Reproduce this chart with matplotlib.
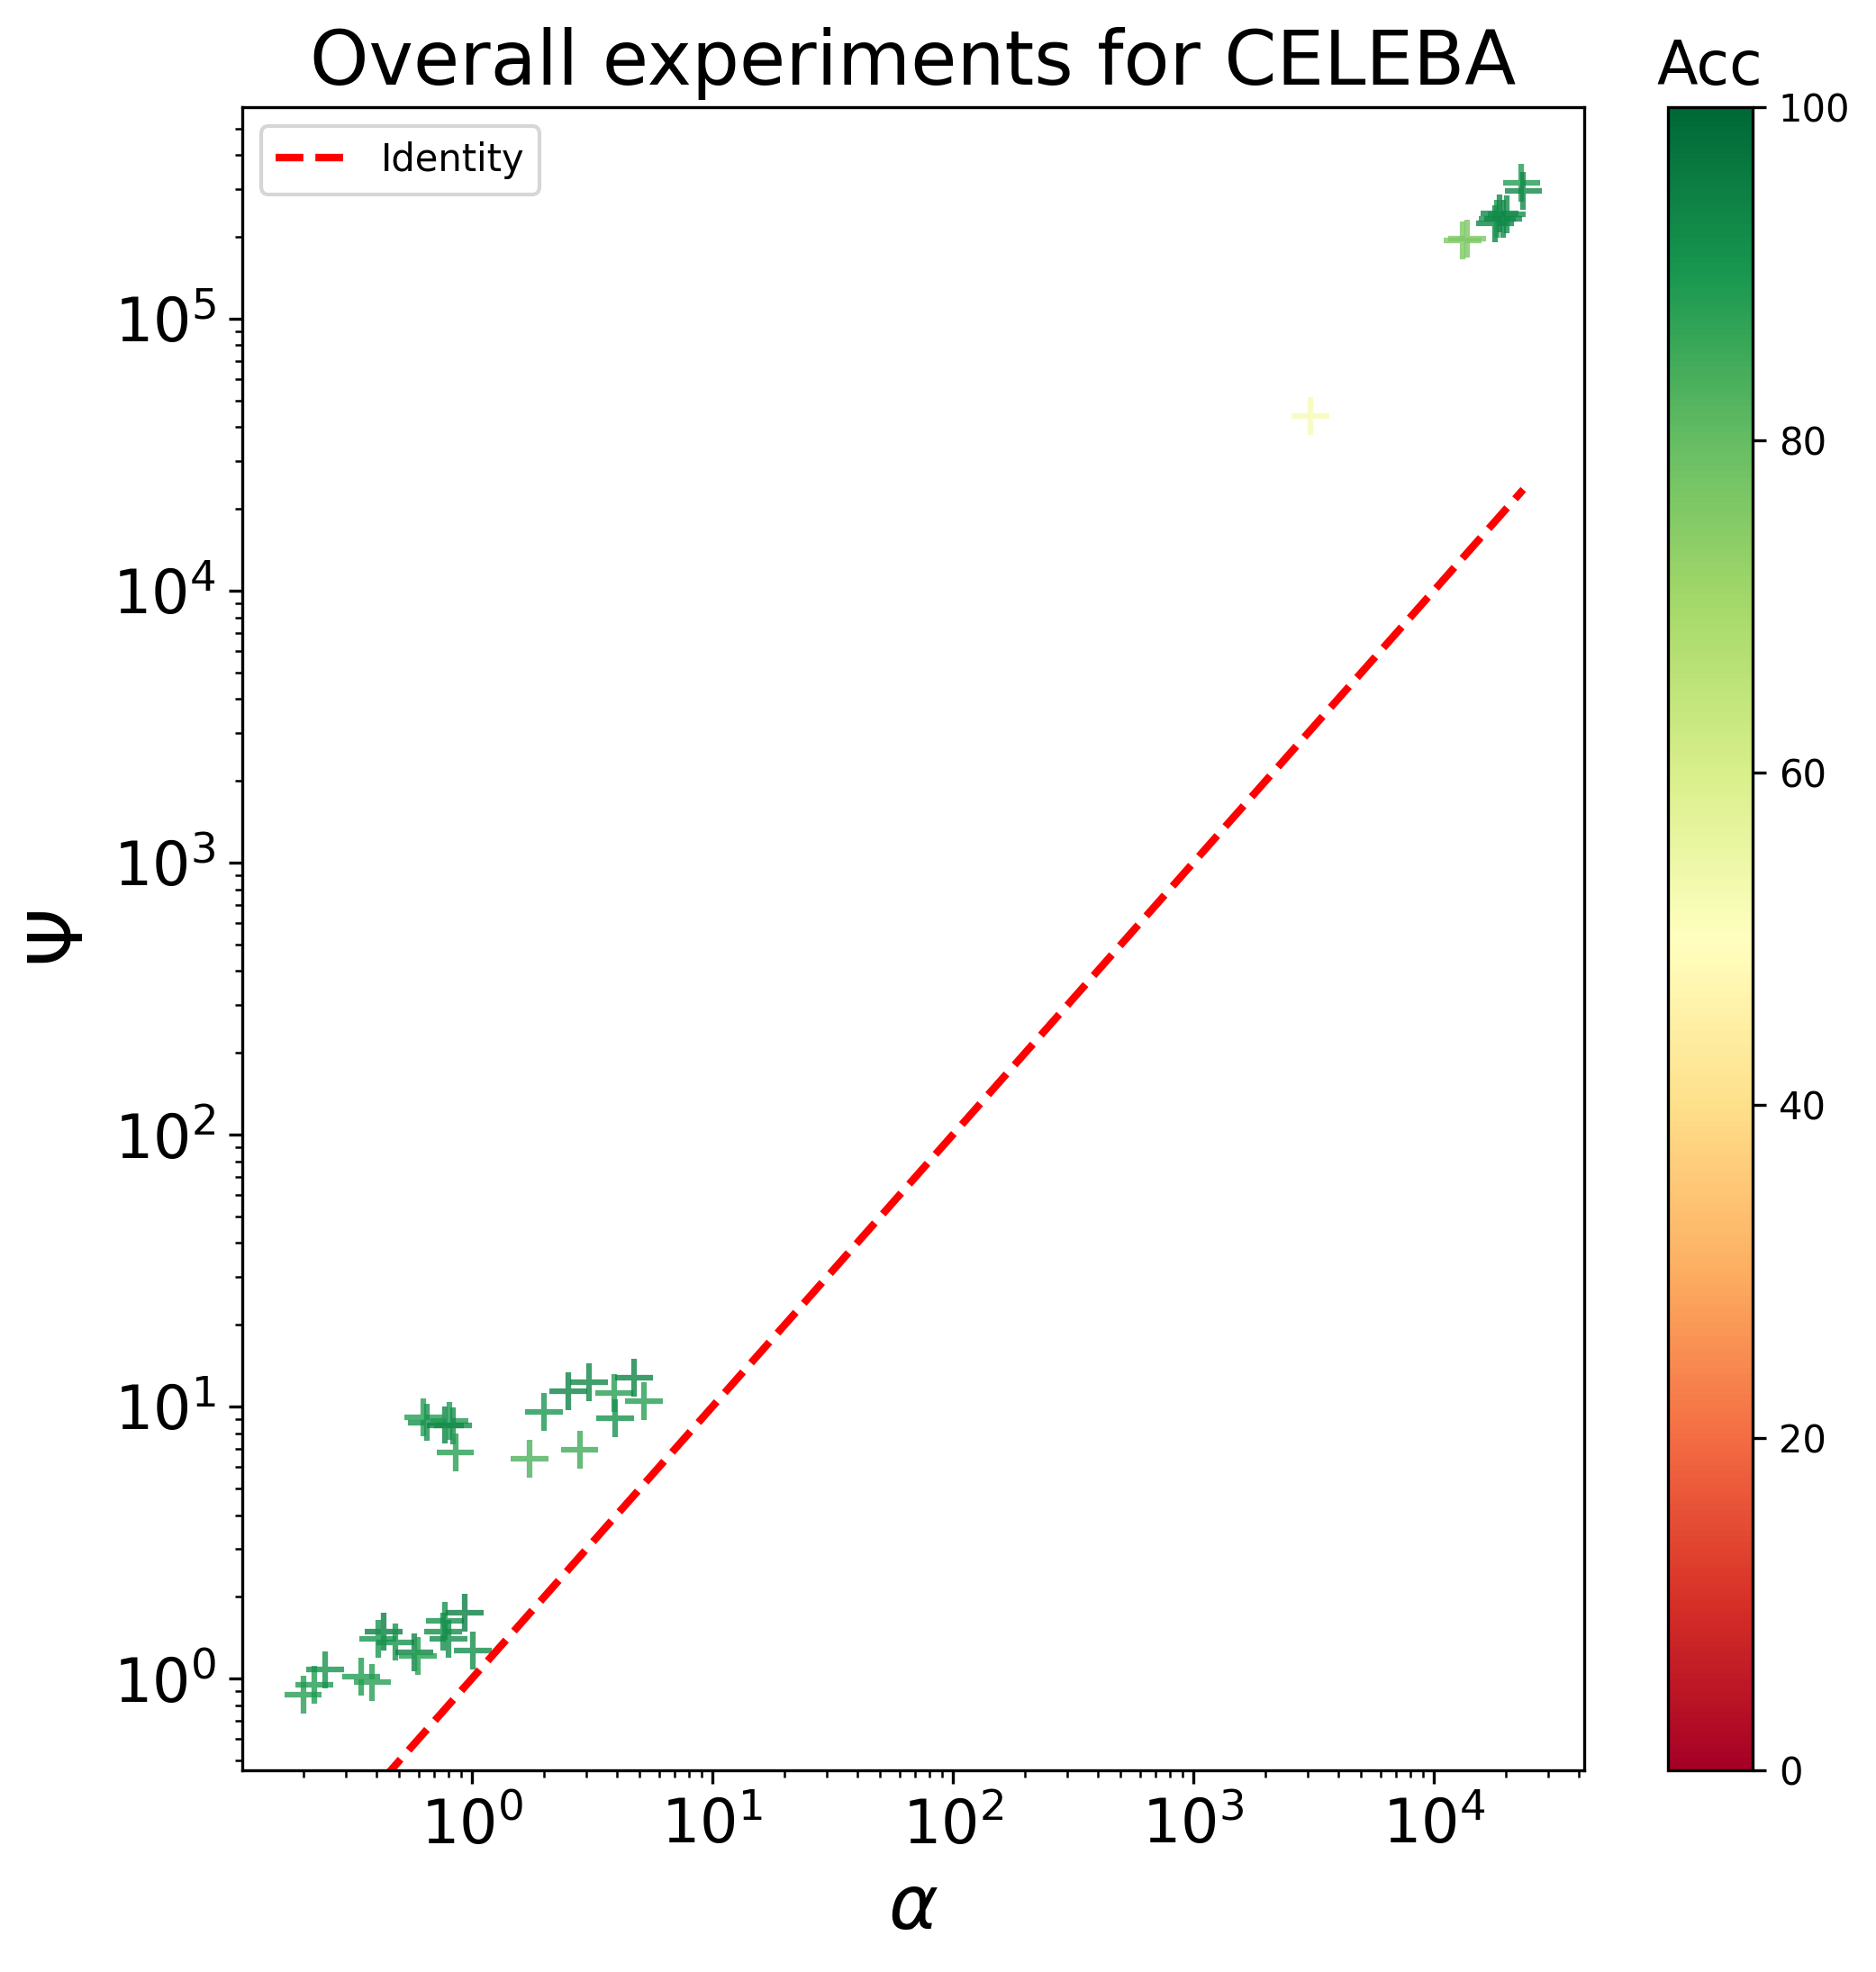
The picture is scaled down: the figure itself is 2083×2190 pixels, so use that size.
"""
Scatter de alpha vs Psi (escala log) coloreado por accuracy, CELEBA.
"""
import numpy as np
import matplotlib
matplotlib.use("Agg")  # sin GUI
import matplotlib.pyplot as plt
from matplotlib.colors import Normalize
from matplotlib.cm import ScalarMappable

ALPHA = [
    # cluster bajo
    0.199, 0.221, 0.245, 0.346, 0.386, 0.429, 0.407, 0.480, 0.575, 0.596,
    0.772, 0.933, 0.759, 0.799, 1.009,
    # cluster medio izquierdo
    0.627, 0.649, 0.776, 0.805, 0.837, 0.854,
    # cluster medio derecho
    1.738, 2.81, 1.995, 2.52, 3.07, 3.91, 4.73, 5.20, 3.95,
    # cluster alto
    13200, 13800, 18000, 18400, 18800, 20100, 19500, 23200, 23600,
    3070,
]
PSI = [
    0.874, 0.950, 1.079, 1.018, 0.970, 1.49, 1.40, 1.364, 1.25, 1.213,
    1.633, 1.75, 1.49, 1.40, 1.27,
    9.15, 8.77, 8.57, 8.87, 8.52, 6.80,
    6.44, 6.95, 9.57, 11.44, 12.31, 11.24, 12.79, 10.50, 9.06,
    194000, 197000, 224000, 234000, 244000, 243000, 233000, 316000, 295000,
    43900,
]
ACC = [
    88, 89, 91, 89, 88, 95, 90, 91, 94, 88,
    91, 95, 92, 92, 92,
    88, 91, 94, 89, 92, 88,
    83, 85, 90, 94, 93, 88, 94, 88, 91,
    76, 76, 94, 90, 93, 92, 93, 89, 93,
    52,
]

CMAP = "RdYlGn"
ACC_MIN, ACC_MAX = 0, 100


def main():
    alpha = np.array(ALPHA)
    psi = np.array(PSI)
    acc = np.array(ACC)

    fig = plt.figure(figsize=(2083 / 300, 2190 / 300))
    ax = fig.add_axes([0.1291, 0.1023, 0.7154, 0.8432])
    cax = fig.add_axes([0.8890, 0.1023, 0.0451, 0.8432])

    ax.set_xscale("log")
    ax.set_yscale("log")

    norm = Normalize(vmin=ACC_MIN, vmax=ACC_MAX)
    ax.scatter(alpha, psi, c=acc, cmap=CMAP, norm=norm, marker="+",
               s=100, linewidths=1.5, alpha=0.8)

    # limites fijados por los puntos; la identidad se recorta abajo
    ax.set_xlim(ax.get_xlim())
    ax.set_ylim(ax.get_ylim())

    xs = np.linspace(alpha.min(), alpha.max(), 200)
    ax.plot(xs, xs, "--", color="red", linewidth=2, label="Identity")

    ax.set_title("Overall experiments for CELEBA", fontsize=20)
    ax.set_xlabel(r"$\alpha$", fontsize=20)
    ax.set_ylabel(r"$\Psi$", fontsize=20)
    ax.tick_params(axis="both", which="major", labelsize=16)
    ax.legend(loc="upper left", fontsize=10)

    cbar = fig.colorbar(ScalarMappable(norm=norm, cmap=CMAP), cax=cax)
    cbar.set_ticks([0, 20, 40, 60, 80, 100])
    cbar.ax.tick_params(labelsize=10)
    cbar.ax.set_title("Acc", fontsize=16)

    fig.savefig("out.png", dpi=300)
    plt.close(fig)


if __name__ == "__main__":
    main()
